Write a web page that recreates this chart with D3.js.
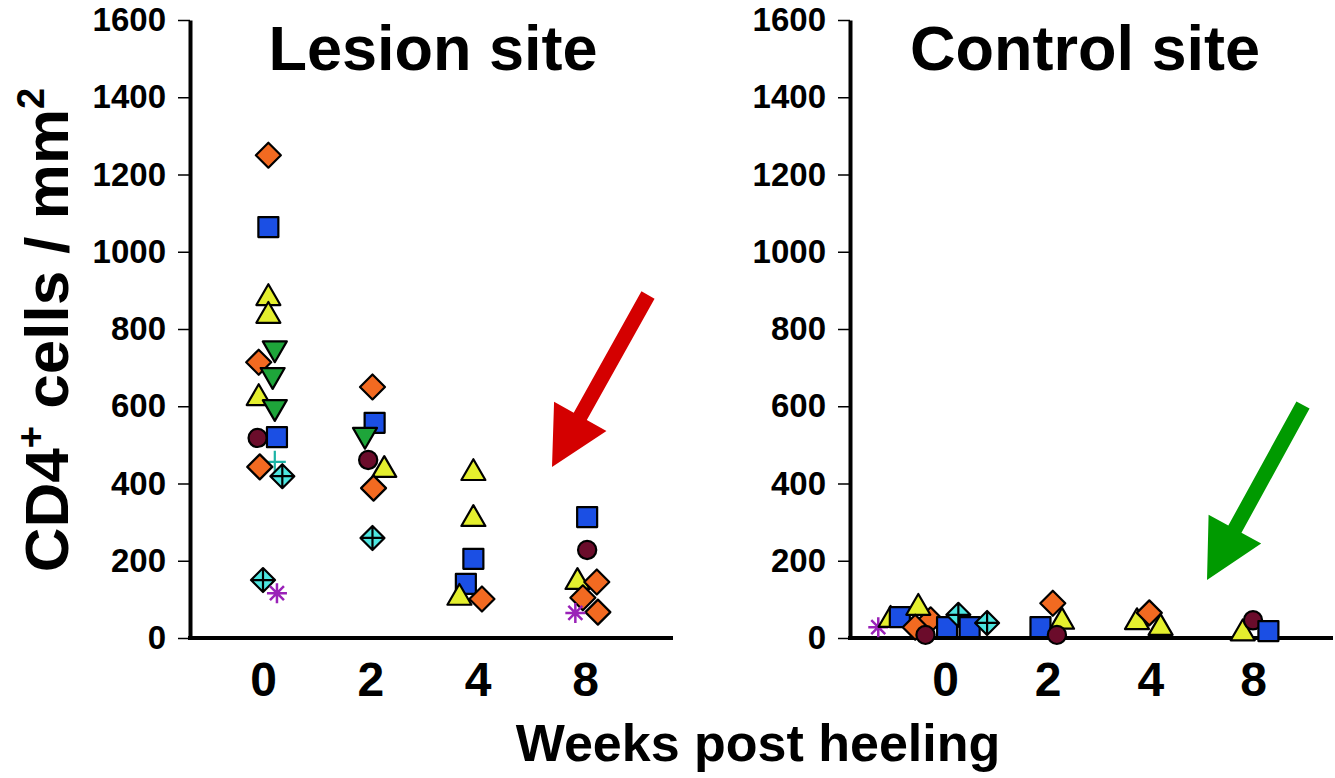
<!DOCTYPE html>
<html>
<head>
<meta charset="utf-8">
<script src="https://cdn.jsdelivr.net/npm/d3@7"></script>
<style>
  body { margin: 0; background: #fff; }
  svg { display: block; font-family: "Liberation Sans", Arial, Helvetica, sans-serif; font-weight: bold; }
</style>
</head>
<body>
<div id="chart"></div>
<script>
// ---- data ----
const weeks = ["0", "2", "4", "8"];
const yTicks = [0, 200, 400, 600, 800, 1000, 1200, 1400, 1600];

// [week, cells per mm2, symbol group, jitter (fraction of a column step)]
const lesionPoints = [
  ["0", 1250, "diamond", 0.05],
  ["0", 1064, "square", 0.05],
  ["0", 880, "triUp", 0.05],
  ["0", 834, "triUp", 0.05],
  ["0", 750, "triDown", 0.11],
  ["0", 714, "diamond", -0.04],
  ["0", 681, "triDown", 0.09],
  ["0", 621, "triUp", -0.04],
  ["0", 598, "triDown", 0.11],
  ["0", 518, "circle", -0.05],
  ["0", 520, "square", 0.13],
  ["0", 456, "plus", 0.11],
  ["0", 443, "diamond", -0.03],
  ["0", 419, "diamondCross", 0.18],
  ["0", 150, "diamondCross", 0.0],
  ["0", 116, "star", 0.13],
  ["2", 650, "diamond", 0.02],
  ["2", 557, "square", 0.04],
  ["2", 526, "triDown", -0.05],
  ["2", 461, "circle", -0.02],
  ["2", 435, "triUp", 0.13],
  ["2", 388, "diamond", 0.03],
  ["2", 259, "diamondCross", 0.02],
  ["4", 427, "triUp", -0.04],
  ["4", 308, "triUp", -0.04],
  ["4", 205, "square", -0.04],
  ["4", 140, "square", -0.11],
  ["4", 104, "triUp", -0.17],
  ["4", 101, "diamond", 0.04],
  ["8", 313, "square", 0.02],
  ["8", 228, "circle", 0.02],
  ["8", 145, "triUp", -0.07],
  ["8", 145, "diamond", 0.11],
  ["8", 104, "diamond", -0.02],
  ["8", 67, "diamond", 0.12],
  ["8", 65, "star", -0.09]
];

const controlPoints = [
  ["0", 28, "star", -0.65],
  ["0", 47, "triUp", -0.53],
  ["0", 54, "square", -0.44],
  ["0", 47, "diamond", -0.14],
  ["0", 78, "triUp", -0.26],
  ["0", 28, "diamond", -0.29],
  ["0", 8, "circle", -0.19],
  ["0", 28, "square", 0.02],
  ["0", 60, "diamondCross", 0.13],
  ["0", 28, "square", 0.24],
  ["0", 39, "diamondCross", 0.41],
  ["2", 28, "square", -0.07],
  ["2", 90, "diamond", 0.05],
  ["2", 42, "triUp", 0.14],
  ["2", 8, "circle", 0.09],
  ["4", 41, "triUp", -0.13],
  ["4", 65, "diamond", -0.01],
  ["4", 26, "triUp", 0.10],
  ["8", 12, "triUp", -0.10],
  ["8", 46, "circle", 0.0],
  ["8", 18, "square", 0.15]
];

const groupColor = {
  diamond: "#F26A21",
  square: "#1B4FE4",
  triUp: "#E4EF2E",
  triDown: "#1EA53A",
  circle: "#6B0C2B",
  diamondCross: "#4DE6E0",
  plus: "#1BB3A5",
  star: "#9A22B8"
};

// ---- layout ----
const width = 1335, height = 778;
const svg = d3.select("#chart").append("svg")
  .attr("width", width)
  .attr("height", height);

const y = d3.scaleLinear().domain([0, 1600]).range([638, 20]);

// symbol path for a group, centred at 0,0
function symbolPath(g) {
  if (g === "diamond") return "M0,-12.5L12.5,0L0,12.5L-12.5,0Z";
  if (g === "square") return d3.symbol(d3.symbolSquare, 400)();
  if (g === "triUp") return d3.symbol(d3.symbolTriangle, 250)();
  if (g === "triDown") return d3.symbol(d3.symbolTriangle, 250)();
  if (g === "circle") return d3.symbol(d3.symbolCircle, 260)();
  if (g === "diamondCross") return "M0,-12L12,0L0,12L-12,0Z M0,-12V12 M-12,0H12";
  if (g === "plus") return "M0,-11V11 M-11,0H11";
  if (g === "star") return "M0,-10V10 M-10,0H10 M-7,-7L7,7 M-7,7L7,-7";
  return "";
}

function drawPanel(opts) {
  const x = d3.scalePoint().domain(weeks).range(opts.xRange);
  const g = svg.append("g");

  // y axis
  const ya = g.append("g")
    .attr("transform", `translate(${opts.axisX},0)`)
    .call(d3.axisLeft(y).tickValues(yTicks).tickFormat(d3.format("d"))
      .tickSize(12).tickSizeOuter(0).tickPadding(12));
  ya.select(".domain").attr("stroke", "#000").attr("stroke-width", 4);
  ya.selectAll(".tick line").attr("stroke", "#000").attr("stroke-width", 1.5);
  ya.selectAll(".tick text")
    .attr("font-size", 33)
    .attr("font-family", "Liberation Sans, Arial, sans-serif")
    .attr("font-weight", "bold")
    .attr("fill", "#000");

  // baseline
  g.append("line")
    .attr("x1", opts.axisX - 2).attr("x2", opts.lineEnd)
    .attr("y1", y(0)).attr("y2", y(0))
    .attr("stroke", "#000").attr("stroke-width", 4);

  // x labels
  const xa = g.append("g")
    .attr("transform", `translate(0,${y(0)})`)
    .call(d3.axisBottom(x).tickSize(0).tickPadding(24));
  xa.select(".domain").remove();
  xa.selectAll(".tick text")
    .attr("font-size", 48)
    .attr("font-family", "Liberation Sans, Arial, sans-serif")
    .attr("font-weight", "bold")
    .attr("fill", "#000");

  // points
  g.append("g")
    .selectAll("path")
    .data(opts.points)
    .join("path")
    .attr("d", (d) => symbolPath(d[2]))
    .attr("transform", (d) => {
      const px = x(d[0]) + d[3] * x.step();
      const py = y(d[1]);
      return `translate(${px},${py})` + (d[2] === "triDown" ? " rotate(180)" : "");
    })
    .attr("fill", (d) => (d[2] === "plus" || d[2] === "star") ? "none" : groupColor[d[2]])
    .attr("stroke", (d) => (d[2] === "plus" || d[2] === "star") ? groupColor[d[2]] : "#000")
    .attr("stroke-width", (d) => d[2] === "star" ? 2.5 : 2.2)
    .attr("stroke-linejoin", "round");

  // panel title
  g.append("text")
    .attr("x", opts.titleX)
    .attr("y", 70)
    .attr("text-anchor", "middle")
    .attr("font-size", 63)
    .text(opts.title);

  // arrow
  const S = opts.arrow[0], T = opts.arrow[1];
  const dx = T[0] - S[0], dy = T[1] - S[1];
  const len = Math.hypot(dx, dy);
  const ux = dx / len, uy = dy / len;
  const nx = -uy, ny = ux;
  const shaft = 7.5, headLen = 58, headHalf = 30;
  const bx = T[0] - ux * headLen, by = T[1] - uy * headLen;
  const pts = [
    [S[0] + nx * shaft, S[1] + ny * shaft],
    [bx + nx * shaft, by + ny * shaft],
    [bx + nx * headHalf, by + ny * headHalf],
    T,
    [bx - nx * headHalf, by - ny * headHalf],
    [bx - nx * shaft, by - ny * shaft],
    [S[0] - nx * shaft, S[1] - ny * shaft]
  ];
  g.append("path")
    .attr("d", d3.line()(pts) + "Z")
    .attr("fill", opts.arrowColor);
}

drawPanel({
  axisX: 190, lineEnd: 673, xRange: [263, 585],
  points: lesionPoints, title: "Lesion site", titleX: 433,
  arrow: [[648, 295], [552, 467]], arrowColor: "#D40000"
});

drawPanel({
  axisX: 850, lineEnd: 1333, xRange: [945, 1253],
  points: controlPoints, title: "Control site", titleX: 1085,
  arrow: [[1303, 405], [1207, 580]], arrowColor: "#009A00"
});

// shared axis titles
svg.append("text")
  .attr("x", 758)
  .attr("y", 761)
  .attr("text-anchor", "middle")
  .attr("font-size", 52)
  .text("Weeks post heeling");

const yt = svg.append("text")
  .attr("transform", "translate(68,330) rotate(-90)")
  .attr("text-anchor", "middle")
  .attr("font-size", 62);
yt.append("tspan").text("CD4");
yt.append("tspan").attr("font-size", 38).attr("dy", -24).text("+");
yt.append("tspan").attr("dy", 24).text(" cells / mm");
yt.append("tspan").attr("font-size", 38).attr("dy", -24).text("2");
</script>
</body>
</html>
